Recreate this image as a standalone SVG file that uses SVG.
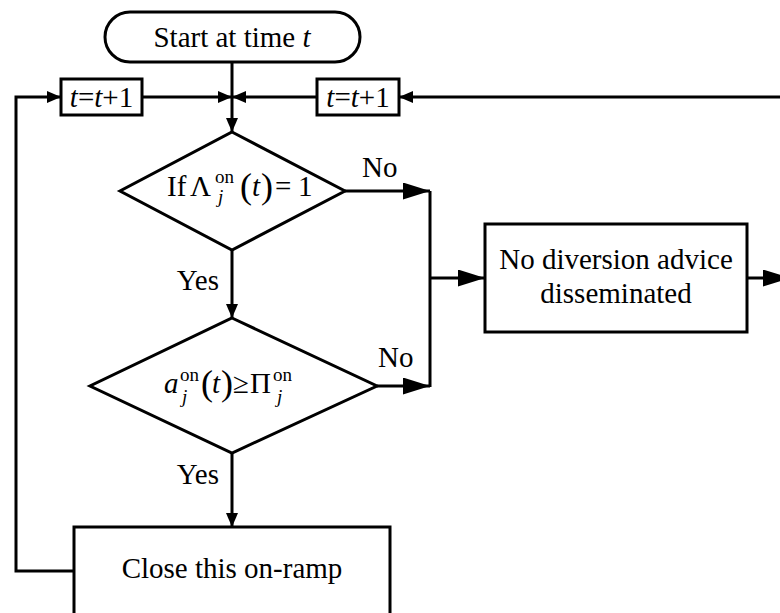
<svg xmlns="http://www.w3.org/2000/svg" width="780" height="613" viewBox="0 0 780 613" font-family="'Liberation Serif', 'DejaVu Serif', serif">
  <style>
    .shape { fill: #ffffff; stroke: #000000; stroke-width: 3; }
    .wire { fill: none; stroke: #000000; stroke-width: 3; }
    text { font-family: 'Liberation Serif', 'DejaVu Serif', serif; fill: #000000; }
    .lbl { font-size: 29px; }
    .it { font-style: italic; }
    .sm { font-size: 19px; }
    .par { font-size: 36px; }
  </style>
  <defs>
    <marker id="arrowSmall" markerUnits="userSpaceOnUse" markerWidth="14" markerHeight="12" refX="14" refY="6" orient="auto">
      <path d="M0,0 L14,6 L0,12 Z" fill="#000000"/>
    </marker>
    <marker id="arrowLarge" markerUnits="userSpaceOnUse" markerWidth="27" markerHeight="17" refX="27" refY="8.5" orient="auto">
      <path d="M0,0 L27,8.5 L0,17 Z" fill="#000000"/>
    </marker>
  </defs>

  <!-- connectors -->
  <g id="connectors">
    <path class="wire" d="M232,62 L232,132" marker-end="url(#arrowSmall)"/>
    <path class="wire" d="M142,97 L232,97" marker-end="url(#arrowSmall)"/>
    <path class="wire" d="M317,97 L232,97" marker-end="url(#arrowSmall)"/>
    <path class="wire" d="M74,571 L16,571 L16,97 L61,97" marker-end="url(#arrowSmall)"/>
    <path class="wire" d="M790,97 L399,97" marker-end="url(#arrowSmall)"/>
    <path class="wire" d="M345,191 L430,191" marker-end="url(#arrowLarge)"/>
    <path class="wire" d="M377,386 L430,386" marker-end="url(#arrowLarge)"/>
    <path class="wire" d="M430,191 L430,387"/>
    <path class="wire" d="M430,278 L485,278" marker-end="url(#arrowLarge)"/>
    <path class="wire" d="M747,278 L790,278" marker-end="url(#arrowLarge)"/>
    <path class="wire" d="M232,250 L232,318" marker-end="url(#arrowSmall)"/>
    <path class="wire" d="M232,453 L232,527" marker-end="url(#arrowSmall)"/>
    <text class="lbl" x="362" y="177">No</text>
    <text class="lbl" x="378" y="367">No</text>
    <text class="lbl" x="219" y="290" text-anchor="end">Yes</text>
    <text class="lbl" x="219" y="484" text-anchor="end">Yes</text>
  </g>

  <!-- start terminal -->
  <g id="start">
    <rect class="shape" x="105" y="12" width="255" height="50" rx="25" ry="25"/>
    <text class="lbl" x="232" y="47" text-anchor="middle">Start at time <tspan class="it">t</tspan></text>
  </g>

  <!-- time step boxes -->
  <g id="step-left">
    <rect class="shape" x="61" y="79" width="81" height="36"/>
    <text class="lbl" x="101.5" y="107" text-anchor="middle"><tspan class="it">t</tspan>=<tspan class="it">t</tspan>+1</text>
  </g>
  <g id="step-right">
    <rect class="shape" x="317" y="79" width="82" height="36"/>
    <text class="lbl" x="358" y="107" text-anchor="middle"><tspan class="it">t</tspan>=<tspan class="it">t</tspan>+1</text>
  </g>

  <!-- decision: ramp flag -->
  <g id="decision-flag">
    <polygon class="shape" points="232,132 345,191 232,250 120,191"/>
    <text class="lbl" x="167" y="196">If</text>
    <text class="lbl" x="190" y="196">Λ</text>
    <text class="sm" x="215" y="183">on</text>
    <text class="sm it" x="218" y="203">j</text>
    <text class="par" x="240" y="198">(</text>
    <text class="lbl it" x="252" y="196">t</text>
    <text class="par" x="261" y="198">)</text>
    <text class="lbl" x="275" y="196">=</text>
    <text class="lbl" x="298" y="196">1</text>
  </g>

  <!-- decision: threshold -->
  <g id="decision-threshold">
    <polygon class="shape" points="232,318 377,386 232,453 90,386"/>
    <text class="lbl it" x="164" y="393">a</text>
    <text class="sm" x="180" y="381">on</text>
    <text class="sm it" x="182" y="403">j</text>
    <text class="par" x="201" y="395">(</text>
    <text class="lbl it" x="212" y="393">t</text>
    <text class="par" x="221" y="395">)</text>
    <text class="lbl" x="233" y="393">≥</text>
    <text class="lbl" x="250" y="393">Π</text>
    <text class="sm" x="273" y="381">on</text>
    <text class="sm it" x="277" y="403">j</text>
  </g>

  <!-- no diversion outcome -->
  <g id="no-diversion">
    <rect class="shape" x="485" y="224" width="262" height="108"/>
    <text class="lbl" x="616" y="269" text-anchor="middle">No diversion advice</text>
    <text class="lbl" x="616" y="303" text-anchor="middle">disseminated</text>
  </g>

  <!-- close outcome -->
  <g id="close-ramp">
    <rect class="shape" x="74" y="527" width="316" height="90"/>
    <text class="lbl" x="232" y="578" text-anchor="middle">Close this on-ramp</text>
  </g>
</svg>
